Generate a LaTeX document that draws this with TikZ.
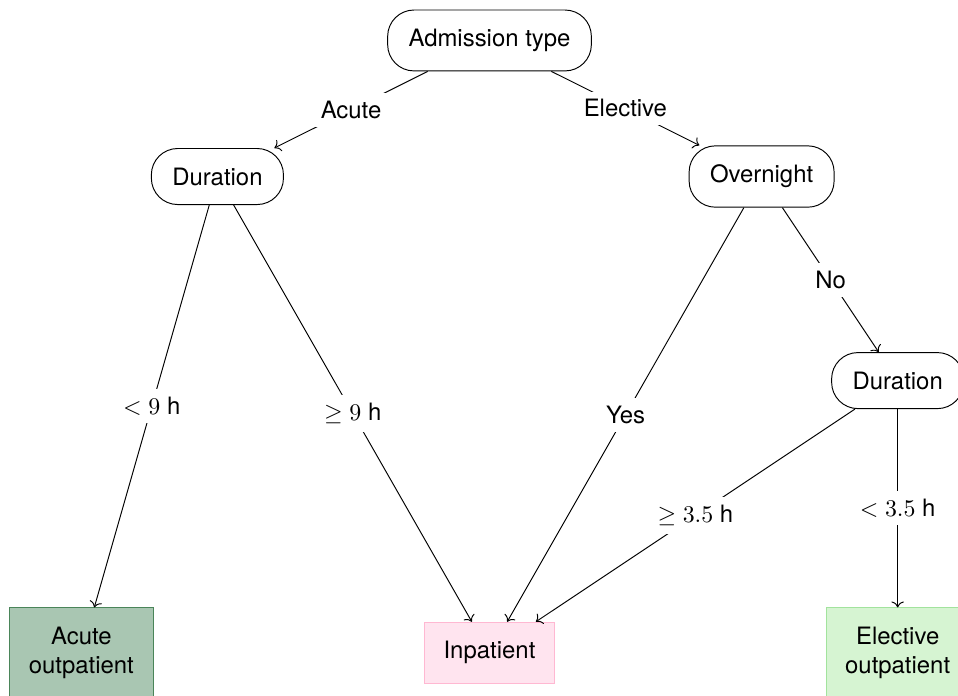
\documentclass[tikz,border=0pt]{standalone}
\usepackage[no-math]{fontspec}
\setmainfont{TeX Gyre Heros}
\usepackage{amsmath}
\usepackage{amssymb}
\usetikzlibrary{arrows.meta}
\definecolor{AcuteFill}{HTML}{A9C6B2}
\definecolor{AcuteLine}{HTML}{4A8559}
\definecolor{InpatFill}{HTML}{FFE4EF}
\definecolor{InpatLine}{HTML}{FFB8D2}
\definecolor{ElectFill}{HTML}{D6F4D2}
\definecolor{ElectLine}{HTML}{A2E39D}

\begin{document}
\begin{tikzpicture}[
    decision/.style={draw, rounded corners=11pt, inner xsep=8.75pt, inner ysep=8pt},
    leaf/.style={draw, align=center, inner xsep=8pt, inner ysep=8pt},
    lbl/.style={fill=white}]
    \useasboundingbox (-7.196,-9.636) rectangle (6.887,0.595);

    % decision nodes
    \node (admit) [decision] at (0,0) {Admission type};
    \node (durAcute) [decision] at (-4,-2) {Duration};
    \node (overnight) [decision] at (4,-2) {Overnight};
    \node (durElective) [decision] at (6,-5) {Duration};

    % outcomes
    \node (acuteOut) [leaf, fill=AcuteFill, draw=AcuteLine] at (-6,-9) {Acute\\outpatient};
    \node (inpat) [leaf, fill=InpatFill, draw=InpatLine] at (0,-9) {Inpatient};
    \node (electiveOut) [leaf, fill=ElectFill, draw=ElectLine] at (6,-9) {Elective\\outpatient};

    \draw[->] (admit) -- node[lbl] {Acute} (durAcute);
    \draw[->] (admit) -- node[lbl] {Elective} (overnight);
    \draw[->] (durAcute) -- node[lbl] {$<9$ h} (acuteOut);
    \draw[->] (durAcute) -- node[lbl] {$\geq 9$ h} (inpat);
    \draw[->] (overnight) -- node[lbl] {Yes} (inpat);
    \draw[->] (overnight) -- node[lbl] {No} (durElective);
    \draw[->] (durElective) -- node[lbl] {$\geq 3.5$ h} (inpat);
    \draw[->] (durElective) -- node[lbl] {$<3.5$ h} (electiveOut);
\end{tikzpicture}
\end{document}
